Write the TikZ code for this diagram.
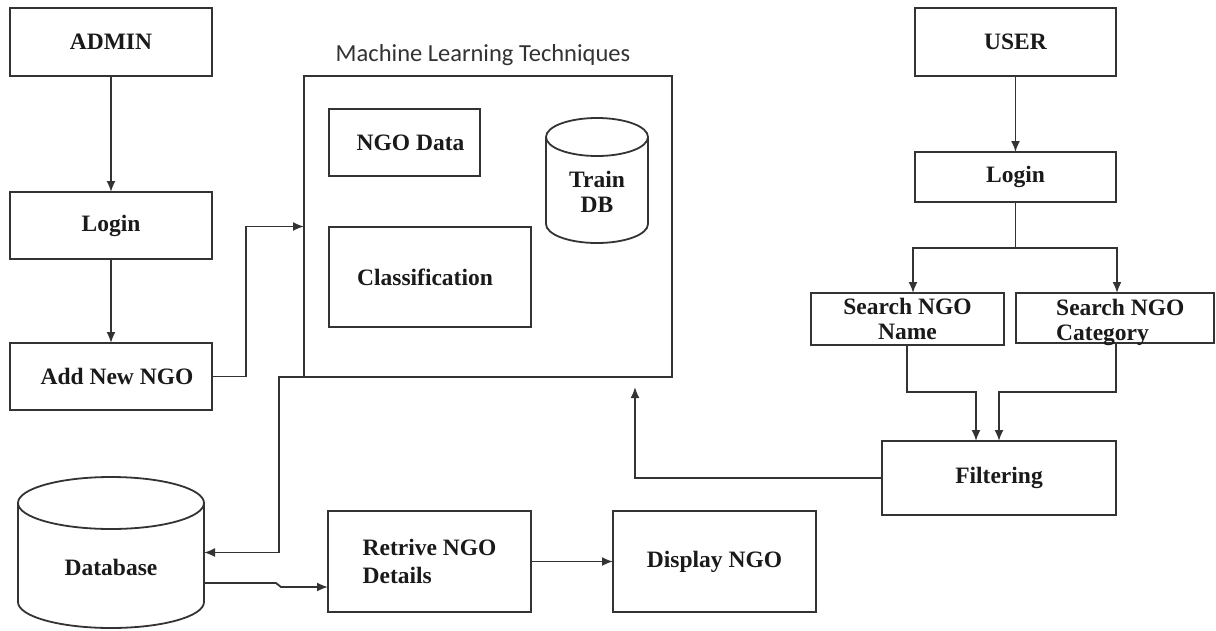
\documentclass[tikz,border=0pt]{standalone}
\usepackage{fontspec}
\setmainfont{Liberation Serif}
\newfontfamily\calib{Carlito}
\usetikzlibrary{arrows.meta,calc}
\definecolor{ln}{HTML}{333333}
\definecolor{tx}{HTML}{1A1A1A}
\newcommand\lblfont{\fontsize{23.5}{25}\selectfont\bfseries}
\begin{document}
\begin{tikzpicture}[x=1pt,y=-1pt,
  box/.style={draw=ln, line width=1.8pt, inner sep=0pt, outer sep=0pt,
    font=\lblfont, text=tx, align=center},
  ghost/.style={inner sep=0pt, outer sep=0pt},
  txt/.style={font=\lblfont, text=tx, align=center, inner sep=0pt},
  cyl/.style={draw=ln, line width=1.8pt},
  link/.style={draw=ln, line width=1.8pt},
  arr/.style={link, -{Latex[length=11pt,width=9pt]}}]
\fill[white] (0,0) rectangle (1216,630);
\useasboundingbox (0,0) rectangle (1216,630);

% admin side
\node[box, minimum width=202pt, minimum height=68pt] (admin) at (111,42) {ADMIN};
\node[box, minimum width=202pt, minimum height=67pt] (login1) at (111,225.5) {Login};
\node[box, minimum width=202pt, minimum height=67pt] (addngo) at (111,376.5) {\hspace*{12pt}Add New NGO};

% machine learning box
\node[box, minimum width=368pt, minimum height=301pt] (ml) at (488,226.5) {};
\node[font=\calib\fontsize{24.5}{28}\selectfont, text=ln, inner sep=0pt] (mltitle) at (483,55) {Machine Learning Techniques};
\node[box, minimum width=151pt, minimum height=67pt] (ngodata) at (404.5,142.5) {\hspace*{12pt}NGO Data};
\node[box, minimum width=202pt, minimum height=100pt] (classif) at (430,277) {Classification\hspace*{10pt}};
\node[ghost, minimum width=102pt, minimum height=125pt] (traindb) at (597,180.5) {};
\draw[cyl] (597,137) ellipse[x radius=51pt, y radius=19pt];
\draw[cyl] (546,137) -- (546,224) arc[start angle=180, end angle=360, x radius=51pt, y radius=19pt] -- (648,137);
\node[txt] (traindbtxt) at (597,192) {Train\\DB};

% user side
\node[box, minimum width=201pt, minimum height=68pt] (user) at (1015.5,42) {USER};
\node[box, minimum width=201pt, minimum height=50pt] (login2) at (1015.5,177) {Login};
\node[box, minimum width=193pt, minimum height=52pt] (sname) at (907.5,319) {Search NGO\\Name};
\node[box, minimum width=198pt, minimum height=50pt] (scat) at (1115,318) {};
\node[txt, align=left, anchor=west] (scattxt) at (1056,322) {Search NGO\\Category};
\node[box, minimum width=234pt, minimum height=74pt] (filter) at (999,478) {Filtering};

% bottom
\node[ghost, minimum width=186pt, minimum height=151pt] (db) at (111,552.5) {};
\draw[cyl] (111,503) ellipse[x radius=93pt, y radius=26pt];
\draw[cyl] (18,503) -- (18,602) arc[start angle=180, end angle=360, x radius=93pt, y radius=26pt] -- (204,503);
\node[txt] (dbtxt) at (111,567) {Database};
\node[box, minimum width=203pt, minimum height=101pt, align=left,
  font=\fontsize{23.5}{28}\selectfont\bfseries] (retrive) at (429.5,561.5) {Retrive NGO\\Details};
\node[box, minimum width=203pt, minimum height=101pt] (display) at (714.5,561.5) {Display NGO};

\coordinate (mltip) at (635,387);
\coordinate (split) at (1015.5,248);

% connectors
\draw[arr] (admin) -- (login1);
\draw[arr] (login1) -- (addngo);
\draw[arr] (addngo.east) -- ++(34,0) |- (ml.west);
\draw[arr] (ml.south west) -- ++(-25,0) |- (db.east);
\draw[arr] ([yshift=-30.5pt]db.east) -- ++(72,0) -- ++(5,4) -- ([yshift=-25.5pt]retrive.west);
\draw[arr] (retrive.east) -- (display.west);
\draw[arr] (filter.west) -| (mltip);
\draw[arr] (user) -- (login2);
\draw[link] (login2.south) -- (split);
\draw[arr] (split) -| ([xshift=5.5pt]sname.north);
\draw[arr] (split) -| ([xshift=2pt]scat.north);
\draw[arr] ([xshift=-0.5pt]sname.south) -- ++(0,47) -| ([xshift=-23pt]filter.north);
\draw[arr] ([xshift=1pt]scat.south) -- ++(0,49) -| (filter.north);
\end{tikzpicture}
\end{document}
